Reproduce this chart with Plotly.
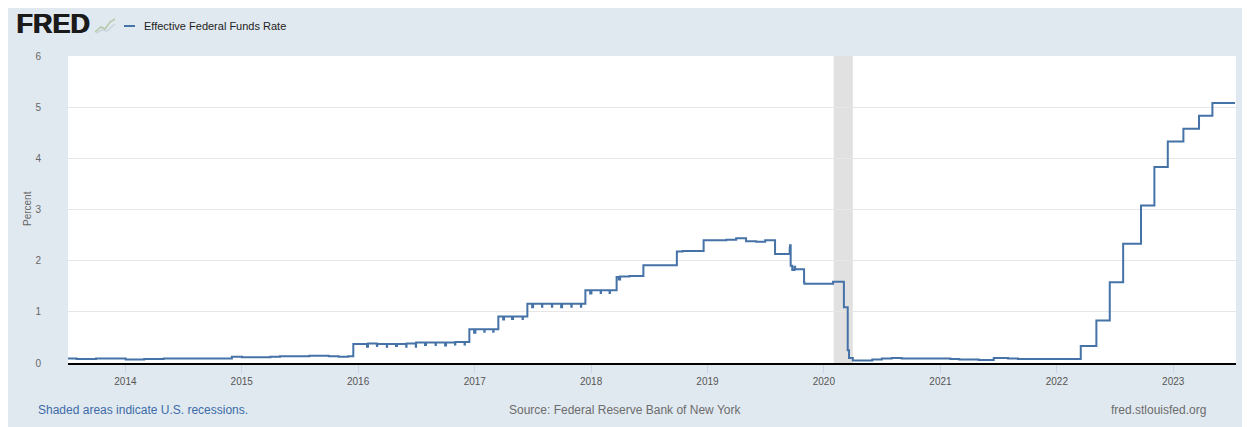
import plotly.graph_objects as go

# ---- data ----
dates = [
    "2013-07-01", "2013-08-01", "2013-10-01", "2014-01-02", "2014-03-01", "2014-05-01",
    "2014-12-01", "2015-01-02", "2015-04-01", "2015-05-01", "2015-08-01", "2015-10-01",
    "2015-11-01", "2015-12-01", "2015-12-17",
    "2016-01-29", "2016-02-01", "2016-02-29", "2016-03-01", "2016-03-31", "2016-04-01",
    "2016-04-29", "2016-05-02", "2016-05-31", "2016-06-01", "2016-06-30", "2016-07-01",
    "2016-07-29", "2016-08-01", "2016-08-31", "2016-09-01", "2016-09-30", "2016-10-03",
    "2016-10-31", "2016-11-01", "2016-11-30", "2016-12-01", "2016-12-15",
    "2016-12-30", "2017-01-03", "2017-01-31", "2017-02-01", "2017-02-28", "2017-03-01",
    "2017-03-16", "2017-03-31", "2017-04-03", "2017-04-28", "2017-05-01", "2017-05-31",
    "2017-06-01", "2017-06-15", "2017-06-30", "2017-07-03", "2017-07-31", "2017-08-01",
    "2017-08-31", "2017-09-01", "2017-09-29", "2017-10-02", "2017-10-31", "2017-11-01",
    "2017-11-30", "2017-12-01", "2017-12-14", "2017-12-29", "2018-01-02", "2018-01-31",
    "2018-02-01", "2018-02-28", "2018-03-01", "2018-03-22", "2018-03-29", "2018-04-02",
    "2018-05-01", "2018-06-14", "2018-09-27", "2018-10-15", "2018-12-20", "2019-03-01",
    "2019-04-01", "2019-05-02", "2019-06-03", "2019-07-01", "2019-08-01", "2019-09-16",
    "2019-09-17", "2019-09-19", "2019-09-24", "2019-10-01", "2019-10-03", "2019-10-31",
    "2019-11-01", "2020-01-30", "2020-03-04", "2020-03-16", "2020-03-20", "2020-04-01",
    "2020-06-01", "2020-07-01", "2020-08-01", "2020-09-01", "2021-02-01", "2021-03-01",
    "2021-05-01", "2021-06-17", "2021-08-01", "2021-09-01", "2022-03-17", "2022-05-05",
    "2022-06-16", "2022-07-28", "2022-09-22", "2022-11-03", "2022-12-15", "2023-02-02",
    "2023-03-23", "2023-05-04", "2023-07-14",
]
rates = [
    0.09, 0.08, 0.09, 0.07, 0.08, 0.09,
    0.12, 0.11, 0.12, 0.13, 0.14, 0.13,
    0.12, 0.13, 0.37,
    0.32, 0.38, 0.33, 0.37, 0.32, 0.37,
    0.33, 0.37, 0.32, 0.38, 0.32, 0.40,
    0.35, 0.40, 0.35, 0.40, 0.34, 0.40,
    0.36, 0.41, 0.36, 0.41, 0.66,
    0.59, 0.66, 0.61, 0.66, 0.61, 0.66,
    0.91, 0.85, 0.91, 0.86, 0.91, 0.86,
    0.91, 1.16, 1.09, 1.16, 1.10, 1.16,
    1.10, 1.16, 1.09, 1.16, 1.10, 1.16,
    1.10, 1.16, 1.42, 1.36, 1.42, 1.37,
    1.42, 1.37, 1.42, 1.68, 1.63, 1.69,
    1.70, 1.91, 2.18, 2.19, 2.40, 2.41,
    2.44, 2.38, 2.37, 2.40, 2.13, 2.25,
    2.30, 1.90, 1.82, 1.88, 1.83, 1.58,
    1.55, 1.59, 1.09, 0.25, 0.10, 0.05,
    0.07, 0.09, 0.10, 0.09, 0.08, 0.07,
    0.06, 0.10, 0.09, 0.08, 0.33, 0.83,
    1.58, 2.33, 3.08, 3.83, 4.33, 4.58,
    4.83, 5.08, 5.08,
]
series_name = "Effective Federal Funds Rate"
tick_years = ["2014", "2015", "2016", "2017", "2018", "2019", "2020", "2021", "2022", "2023"]
recession_start = "2020-02-01"
recession_end = "2020-04-01"
x_range = ["2013-07-05", "2023-07-17"]
y_ticks = [0, 1, 2, 3, 4, 5, 6]

# ---- layout geometry (screen coords measured on the page, body margin 8px) ----
W, H = 1250, 427
OFF = 8
SL, SR, ST, SB = 68, 1236, 56, 363          # plot area on screen
L, R, T, B = SL - OFF, SR - OFF, ST - OFF, SB - OFF  # in figure coords
FONT = "Liberation Sans, Arial, sans-serif"


def px(x):
    return (x - SL) / (SR - SL)


def py(y):
    return (SB - y) / (SB - ST)


fig = go.Figure()
fig.add_trace(go.Scatter(
    x=dates, y=rates, mode="lines", name=series_name,
    line=dict(color="#4572a7", width=2, shape="hv"),
    showlegend=False,
))

fig.add_shape(type="rect", xref="x", yref="paper",
              x0=recession_start, x1=recession_end, y0=0, y1=1,
              fillcolor="#e1e1e1", line_width=0, layer="below")

# legend marker (header)
fig.add_shape(type="line", xref="paper", yref="paper",
              x0=px(124), x1=px(135), y0=py(26), y1=py(26),
              line=dict(color="#4572a7", width=2))

# little FRED chart icon
fig.add_shape(type="path", xref="paper", yref="paper",
              path="M {} {} L {} {} L {} {} L {} {} L {} {}".format(
                  px(95), py(32), px(101), py(27), px(105), py(29), px(110), py(22), px(115), py(19)),
              line=dict(color="#b5c9a8", width=1.5))
fig.add_shape(type="path", xref="paper", yref="paper",
              path="M {} {} L {} {} L {} {} L {} {}".format(
                  px(96), py(33), px(102), py(30), px(107), py(31), px(115), py(24)),
              line=dict(color="#c9d3dc", width=1.5))

ann = []
# heavy "FRED" logo: the same bold text drawn twice, 1px apart, to thicken the strokes
for dx in (0, 1):
    ann.append(dict(text="<b>FRED</b>", x=px(14 + dx), y=py(24), xref="paper", yref="paper",
                    xanchor="left", yanchor="middle", showarrow=False,
                    font=dict(family=FONT, size=27, color="#1a1a1a")))
ann.append(dict(text=series_name, x=px(142), y=py(26), xref="paper", yref="paper",
                xanchor="left", yanchor="middle", showarrow=False,
                font=dict(family=FONT, size=11, color="#222222")))
ann.append(dict(text="Percent", x=px(27), y=py(209), xref="paper", yref="paper",
                xanchor="center", yanchor="middle", showarrow=False, textangle=-90,
                font=dict(family=FONT, size=10, color="#666666")))
ann.append(dict(text="Shaded areas indicate U.S. recessions.", x=px(36), y=py(410),
                xref="paper", yref="paper", xanchor="left", yanchor="middle",
                showarrow=False, font=dict(family=FONT, size=12, color="#3d6ba7")))
ann.append(dict(text="Source: Federal Reserve Bank of New York", x=px(625), y=py(410),
                xref="paper", yref="paper", xanchor="center", yanchor="middle",
                showarrow=False, font=dict(family=FONT, size=12, color="#6c6c6c")))
ann.append(dict(text="fred.stlouisfed.org", x=px(1208), y=py(410),
                xref="paper", yref="paper", xanchor="right", yanchor="middle",
                showarrow=False, font=dict(family=FONT, size=12, color="#6c6c6c")))

fig.update_layout(
    width=W, height=H,
    margin=dict(l=L, r=W - R, t=T, b=H - B, pad=0),
    paper_bgcolor="#e1e9f0",
    plot_bgcolor="#ffffff",
    font=dict(family=FONT, size=10, color="#666666"),
    annotations=ann,
    showlegend=False,
    xaxis=dict(
        type="date", range=x_range,
        tickvals=[y + "-01-01" for y in tick_years], ticktext=tick_years,
        showgrid=False, zeroline=False,
        showline=True, linecolor="#000000", linewidth=2,
        ticks="outside", ticklen=8, tickcolor="#ccd6eb", tickwidth=1,
        tickfont=dict(family=FONT, size=10, color="#555555"),
    ),
    yaxis=dict(
        range=[0, 6], tickvals=y_ticks,
        showgrid=True, gridcolor="#e6e6e6", gridwidth=1, zeroline=False,
        showline=False, ticks="", ticklabelstandoff=26,
        tickfont=dict(family=FONT, size=10, color="#666666"),
    ),
)

fig.write_html("out.html")
